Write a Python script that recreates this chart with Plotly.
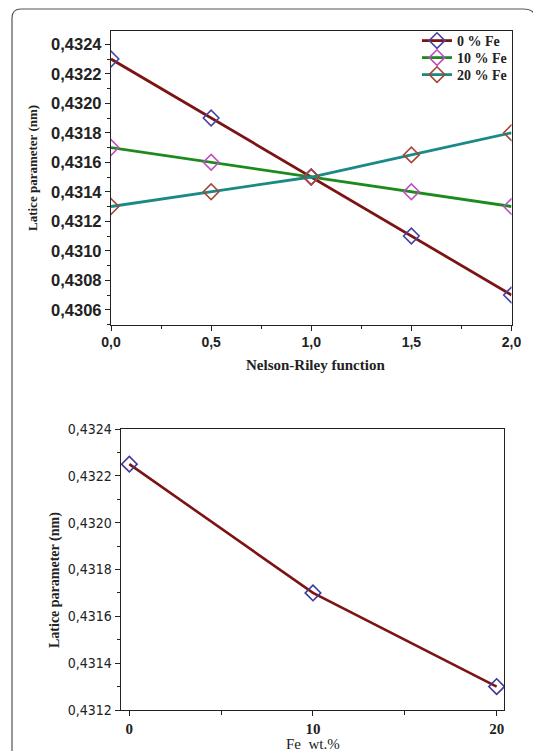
import plotly.graph_objects as go

# ---------------- data ----------------
nr_x = [0.0, 0.5, 1.0, 1.5, 2.0]
fe0 = [0.4323, 0.4319, 0.4315, 0.4311, 0.4307]
fe10 = [0.4317, 0.4316, 0.4315, 0.4314, 0.4313]
fe20 = [0.4313, 0.4314, 0.4315, 0.43165, 0.4318]
series_names = ["0 % Fe", "10 % Fe", "20 % Fe"]

fe_wt = [0, 10, 20]
lat_par = [0.43225, 0.4317, 0.4313]

W, H = 533, 751


def px(xp):
    return xp / W


def py(yp):
    return 1 - yp / H


fig = go.Figure()

line_cols = ["#7d1414", "#1d8a1d", "#1a8a84"]
mark_cols = ["#4343a8", "#c24cc4", "#a4463a"]
legend_ids = ["legend", "legend2", "legend3"]
for name, ys, lc, mc, lg in zip(series_names, [fe0, fe10, fe20], line_cols, mark_cols, legend_ids):
    fig.add_trace(go.Scatter(
        x=nr_x, y=ys, name=name, mode="lines+markers", legend=lg,
        line=dict(color=lc, width=2.8),
        marker=dict(symbol="diamond-open", size=12, color=mc, line=dict(width=1.6, color=mc)),
        xaxis="x", yaxis="y",
    ))

fig.add_trace(go.Scatter(
    x=fe_wt, y=lat_par, mode="lines+markers", showlegend=False,
    line=dict(color="#7d1414", width=2.6),
    marker=dict(symbol="diamond-open", size=12, color="#3a3aa0", line=dict(width=1.6, color="#3a3aa0")),
    xaxis="x2", yaxis="y2",
))

axis_common = dict(showline=True, linecolor="#222", linewidth=1.3, mirror=True,
                   ticks="outside", ticklen=5, tickwidth=1.2, tickcolor="#222",
                   showgrid=False, zeroline=False, automargin=False)

top_x_font = dict(family="Liberation Sans, Arial", size=14, color="#222", weight="bold")
top_y_font = dict(family="Liberation Sans, Arial", size=16.5, color="#222", weight="bold")
bot_y_font = dict(family="DejaVu Sans Condensed, Liberation Serif, Times New Roman", size=14, color="#222")
bot_x_font = dict(family="Liberation Serif, Times New Roman", size=15, color="#222", weight="bold")

legend_font = dict(family="Liberation Serif, Times New Roman", size=14, color="#222", weight="bold")
legend_rows = [41, 58, 75]


def legend_box(yrow):
    return dict(x=px(417), y=py(yrow), xanchor="left", yanchor="middle",
                bgcolor="rgba(0,0,0,0)", borderwidth=0, itemwidth=30, font=legend_font)


fig.update_layout(
    width=W, height=H,
    margin=dict(l=0, r=0, t=0, b=0, autoexpand=False),
    paper_bgcolor="white", plot_bgcolor="white",
    separators=", ",
    showlegend=True,
    legend=legend_box(legend_rows[0]),
    legend2=legend_box(legend_rows[1]),
    legend3=legend_box(legend_rows[2]),
    xaxis=dict(domain=[px(111), px(511.5)], range=[0, 2], anchor="y",
               tickvals=nr_x, tickformat=".1f", tickfont=top_x_font,
               minor=dict(dtick=0.25, ticks="outside", ticklen=3, tickcolor="#222"),
               **axis_common),
    yaxis=dict(domain=[py(324.5), py(31)], range=[0.43050, 0.43249], anchor="x",
               dtick=0.0002, tick0=0.4306, tickformat=".4f", tickfont=top_y_font,
               minor=dict(dtick=0.0001, ticks="outside", ticklen=3, tickcolor="#222"),
               **axis_common),
    xaxis2=dict(domain=[px(120.7), px(504)], range=[-0.47, 20.4], anchor="y2",
                tickvals=fe_wt, tickfont=bot_x_font,
                minor=dict(dtick=5, tick0=0, ticks="outside", ticklen=4, tickcolor="#222"),
                **axis_common),
    yaxis2=dict(domain=[py(710), py(429)], range=[0.4312, 0.4324], anchor="x2",
                dtick=0.0002, tick0=0.4312, tickformat=".4f", tickfont=bot_y_font,
                minor=dict(dtick=0.0001, ticks="outside", ticklen=3, tickcolor="#222"),
                **axis_common),
)

title_font = dict(family="Liberation Serif, Times New Roman", size=13, color="#222", weight="bold")
fig.add_annotation(text="Latice parameter (nm)", xref="paper", yref="paper",
                   x=px(33), y=py(168), textangle=-90, showarrow=False,
                   font=title_font, xanchor="center", yanchor="middle")
fig.add_annotation(text="Nelson-Riley function", xref="paper", yref="paper",
                   x=px(315), y=py(365), showarrow=False,
                   font=dict(title_font, size=15), xanchor="center", yanchor="middle")
fig.add_annotation(text="Latice parameter (nm)", xref="paper", yref="paper",
                   x=px(55), y=py(580), textangle=-90, showarrow=False,
                   font=dict(title_font, size=14), xanchor="center", yanchor="middle")
fig.add_annotation(text="Fe  wt.%", xref="paper", yref="paper",
                   x=px(313), y=py(744), showarrow=False,
                   font=dict(family="Liberation Serif, Times New Roman", size=15, color="#222"),
                   xanchor="center", yanchor="middle")

# outer rounded frame (right side runs just past the page edge)
x0, x1, y0, y1, r = 12, 537, 9, 800, 14
path = (f"M {px(x0)},{py(y1)} L {px(x0)},{py(y0 + 9)} Q {px(x0)},{py(y0)} {px(x0 + 9)},{py(y0)} "
        f"L {px(x1 - r)},{py(y0)} Q {px(x1)},{py(y0)} {px(x1)},{py(y0 + r)} L {px(x1)},{py(y1)}")
fig.add_shape(type="path", xref="paper", yref="paper", path=path,
              line=dict(color="#555", width=1.2))

fig.write_html("out.html")
